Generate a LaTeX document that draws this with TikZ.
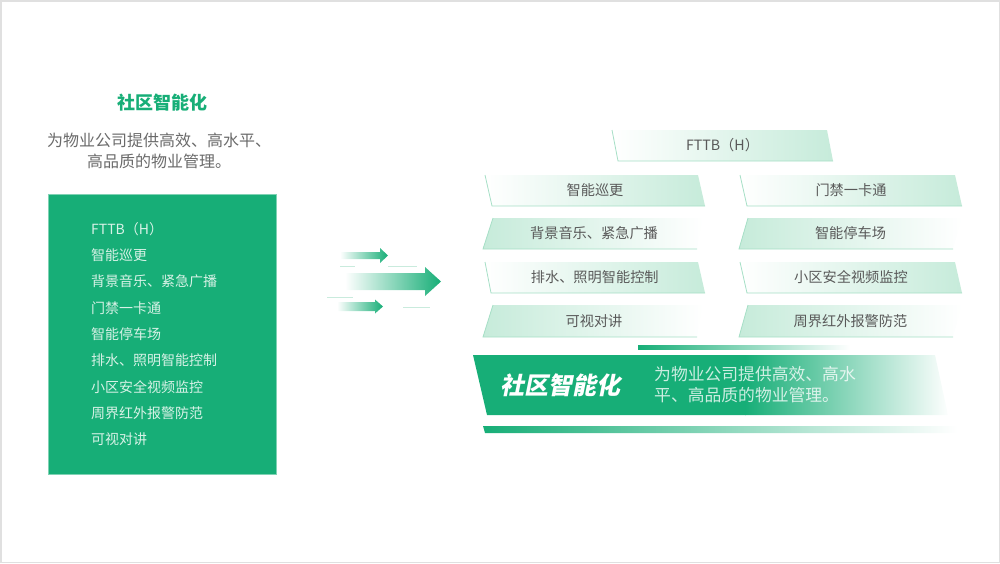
\documentclass[tikz,border=0pt]{standalone}
\usepackage{fontspec}
\setmainfont{Noto Sans CJK SC}
\newfontfamily\cjkbi{Noto Sans CJK SC}[FakeSlant=0.2,BoldFeatures={FakeSlant=0.2}]
\definecolor{mg}{HTML}{17AE77}
\definecolor{lg}{HTML}{C6EBDA}
\definecolor{edgeg}{HTML}{A6DFC6}
\definecolor{txtg}{HTML}{595959}
\definecolor{listc}{HTML}{D8F2E7}
\definecolor{thinl}{HTML}{C9EBDD}
\newcommand\pbox[9]{%
  \shade[#9] (#4,#2) -- (#5,#2) -- (#6,#3) -- (#7,#3) -- cycle;
  \draw[edgeline] (#4,#2) -- (#7,#3) -- (#6,#3);
  \node[boxtext] (#1) at ({(#4+#5+#6+#7)/4},{(#2+#3)/2}) {#8};
}
\begin{document}
\begin{tikzpicture}[x=1pt,y=-1pt,
  w2g/.style={left color=white,right color=lg},
  g2w/.style={left color=lg,right color=white},
  edgeline/.style={draw=edgeg,line width=0.8pt},
  boxtext/.style={text=txtg,font=\fontsize{14.2}{16}\selectfont,inner sep=0pt},
  listtext/.style={text=listc,font=\fontsize{14}{16}\selectfont,anchor=west,inner sep=0pt},
  subtext/.style={text=txtg!90,font=\fontsize{16}{21}\selectfont,align=center,inner sep=0pt},
  thin/.style={draw=thinl,line width=1pt}]
\useasboundingbox (0,0) rectangle (1000,563);
\draw[black!12,line width=1.5pt] (0.75,0.75) rectangle (999.25,562.25);

% left title
\node[text=mg,font=\fontsize{18}{20}\selectfont\bfseries,inner sep=0pt] (ltitle) at (162,103) {社区智能化};
\node[subtext] (lsub) at (159,150.5) {为物业公司提供高效、高水平、\\高品质的物业管理。};

% left panel
\node[fill=mg,draw=mg!55,line width=0.6pt,minimum width=228pt,minimum height=280pt,inner sep=0pt] (panel) at (162,334) {};
\node[listtext] (l1) at (91,229) {FTTB（H）};
\node[listtext] (l2) at (91,255.3) {智能巡更};
\node[listtext] (l3) at (91,281.6) {背景音乐、紧急广播};
\node[listtext] (l4) at (91,307.9) {门禁一卡通};
\node[listtext] (l5) at (91,334.2) {智能停车场};
\node[listtext] (l6) at (91,360.5) {排水、照明智能控制};
\node[listtext] (l7) at (91,386.8) {小区安全视频监控};
\node[listtext] (l8) at (91,413.1) {周界红外报警防范};
\node[listtext] (l9) at (91,439.4) {可视对讲};

% arrows
\shade[left color=white,right color=mg] (340,252) -- (380,252) -- (380,248) -- (388,255.5) -- (380,263) -- (380,259) -- (340,259) -- cycle;
\shade[left color=white,right color=mg] (345,273) -- (425,273) -- (425,267) -- (441,281.5) -- (425,296) -- (425,290) -- (345,290) -- cycle;
\shade[left color=white,right color=mg] (337,302) -- (375,302) -- (375,299.5) -- (383,306.5) -- (375,313.5) -- (375,311) -- (337,311) -- cycle;
\draw[thin] (340,266) -- (355,266);
\draw[thin] (388,266) -- (417,266);
\draw[thin] (327,297) -- (353,297);
\draw[thin] (403,307) -- (430,307);

% right boxes
\pbox{fttb}{130}{161}{612}{827}{833}{618}{FTTB（H）}{w2g}
\pbox{b1}{175}{206}{485}{698}{705}{492}{智能巡更}{w2g}
\pbox{b2}{175}{206}{740}{955}{962}{747}{门禁一卡通}{w2g}
\pbox{b3}{218}{249}{493}{703}{697}{483}{背景音乐、紧急广播}{g2w}
\pbox{b4}{218}{249}{748}{962}{953}{739}{智能停车场}{g2w}
\pbox{b5}{262}{293}{485}{698}{705}{491}{排水、照明智能控制}{w2g}
\pbox{b6}{262}{293}{740}{955}{962}{747}{小区安全视频监控}{w2g}
\pbox{b7}{305}{337}{493}{703}{697}{483}{可视对讲}{g2w}
\pbox{b8}{305}{337}{748}{962}{953}{739}{周界红外报警防范}{g2w}

% top thin bar
\shade[left color=mg,right color=white] (638,345) rectangle (850,349.5);

% band
\begin{scope}
  \clip (473,355) -- (935,355) -- (948,415) -- (487,415) -- cycle;
  \fill[mg] (470,350) rectangle (746,420);
  \shade[left color=mg,right color=white] (745,350) rectangle (950,420);
\end{scope}
\node[text=white,font=\cjkbi\fontsize{24}{26}\selectfont\bfseries,inner sep=0pt] (btitle) at (560,385) {社区智能化};
\node[text=white,opacity=0.78,font=\fontsize{16.8}{21}\selectfont,align=left,anchor=west,inner sep=0pt] (bdesc) at (654,384.5) {为物业公司提供高效、高水\\平、高品质的物业管理。};

% bottom bar
\shade[left color=mg,middle color=mg!55,right color=white] (483,426) -- (957,426) -- (957,433) -- (485,433) -- cycle;
\end{tikzpicture}
\end{document}
